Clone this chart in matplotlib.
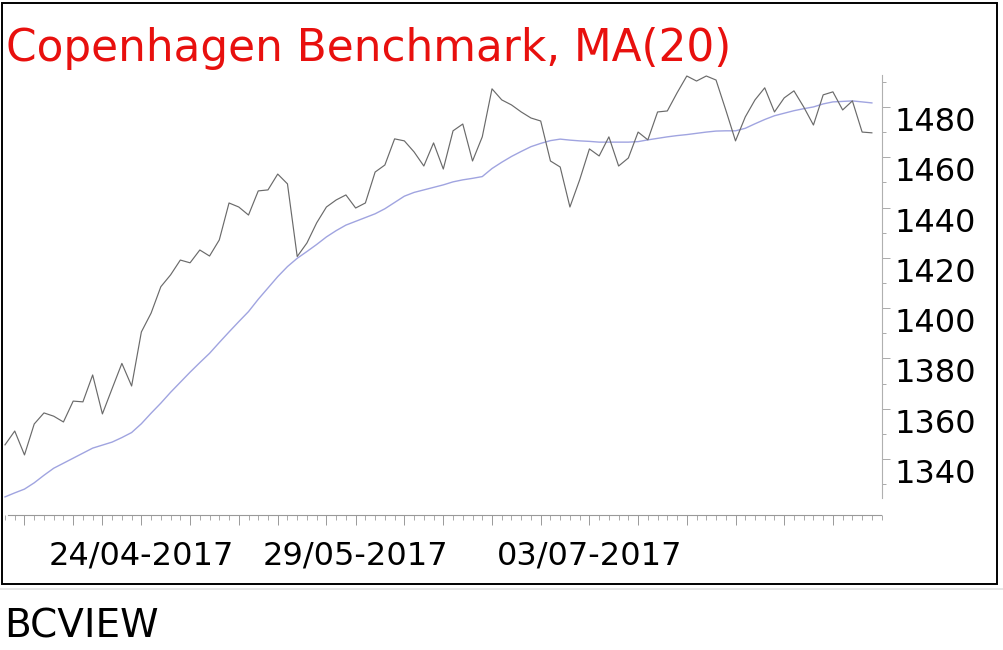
import matplotlib
matplotlib.use("Agg")
import matplotlib.pyplot as plt
from matplotlib import font_manager
from matplotlib.patches import Rectangle
from matplotlib.lines import Line2D
import numpy as np

## Copenhagen Benchmark, daily close (30/03-2017 .. 11/08-2017)
close = [1345.6, 1351.1, 1341.6, 1353.9, 1358.3, 1357.0, 1354.7, 1363.0, 1362.7, 1373.4,
         1357.9, 1368.0, 1378.0, 1369.0, 1390.5, 1398.0, 1408.5, 1413.2, 1419.1, 1418.0,
         1423.1, 1420.7, 1427.1, 1441.8, 1440.2, 1437.0, 1446.6, 1447.0, 1453.3, 1449.4,
         1420.5, 1425.9, 1433.9, 1440.2, 1443.0, 1445.0, 1439.8, 1441.8, 1454.1, 1456.9,
         1467.3, 1466.5, 1462.1, 1456.5, 1465.7, 1455.3, 1470.5, 1473.2, 1458.5, 1468.1,
         1487.2, 1482.8, 1480.8, 1478.0, 1475.6, 1474.4, 1458.5, 1456.1, 1440.2, 1451.0,
         1463.3, 1460.5, 1468.1, 1456.5, 1459.7, 1470.0, 1466.9, 1478.0, 1478.4, 1485.6,
         1492.3, 1490.3, 1492.3, 1490.7, 1478.8, 1466.5, 1476.0, 1482.8, 1487.6, 1478.0,
         1483.6, 1486.4, 1480.0, 1472.8, 1484.8, 1486.0, 1478.8, 1482.4, 1470.0, 1469.7]

## MA(20)
ma20 = [1324.9, 1326.5, 1328.0, 1330.5, 1333.5, 1336.3, 1338.3, 1340.3, 1342.3, 1344.3,
        1345.5, 1346.7, 1348.5, 1350.5, 1354.0, 1358.2, 1362.2, 1366.5, 1370.5, 1374.5,
        1378.3, 1382.0, 1386.3, 1390.5, 1394.6, 1398.6, 1403.5, 1408.0, 1412.5, 1416.5,
        1419.8, 1422.5, 1425.3, 1428.3, 1430.8, 1433.0, 1434.5, 1436.0, 1437.5, 1439.5,
        1442.0, 1444.5, 1446.0, 1447.0, 1448.0, 1449.0, 1450.2, 1451.0, 1451.6, 1452.3,
        1455.5, 1458.0, 1460.3, 1462.3, 1464.2, 1465.5, 1466.6, 1467.2, 1466.8, 1466.5,
        1466.3, 1466.0, 1466.0, 1466.0, 1466.0, 1466.2, 1466.9, 1467.5, 1468.1, 1468.6,
        1469.0, 1469.5, 1470.0, 1470.4, 1470.5, 1470.5, 1471.5, 1473.3, 1475.0, 1476.5,
        1477.5, 1478.5, 1479.3, 1480.0, 1481.2, 1482.0, 1482.2, 1482.4, 1482.0, 1481.6]

## x labels (trading-day index)
label_idx = [14, 36, 60]
labels = ['24/04-2017', '29/05-2017', '03/07-2017']
monday_idx = [2, 7, 10, 14, 19, 24, 28, 33, 36, 41, 45, 50, 55, 60, 65, 70, 75, 80, 85]

y_major = np.arange(1340, 1481, 20)
y_minor = np.arange(1330, 1491, 10)

W, H = 1004, 650
fig = plt.figure(figsize=(W / 100, H / 100), dpi=100)
fig.patch.set_facecolor('white')

# axes: left edge x=5px, right edge (y axis) x=882px, top y=75px, bottom (x axis) y=515px
ax = fig.add_axes([5 / W, (H - 515) / H, 877 / W, 440 / H])
x = np.arange(len(close))
ax.plot(x, close, color='#6a6a6a', lw=0.85, clip_on=False, zorder=3)
ax.plot(x, ma20, color='#a0a4e0', lw=1.0, clip_on=False, zorder=2)

ax.set_xlim(0, 90.04)
ax.set_ylim(1317.7, 1492.7)

for s in ['top', 'left']:
    ax.spines[s].set_visible(False)
ax.spines['right'].set_color('#b0b0b0')
ax.spines['right'].set_linewidth(0.8)
ax.spines['right'].set_bounds(1324.5, 1492.7)
ax.spines['bottom'].set_color('#999999')
ax.spines['bottom'].set_linewidth(0.8)
ax.spines['bottom'].set_bounds(0.3, 89.9)

ax.yaxis.tick_right()
ax.set_yticks(y_major)
ax.set_yticks(y_minor, minor=True)
ax.set_yticklabels([str(v) for v in y_major])
ax.tick_params(axis='y', which='major', direction='out', length=6, width=0.7,
               color='#aaaaaa', pad=3, labelsize=23, labelcolor='black')
ax.tick_params(axis='y', which='minor', direction='out', length=3, width=0.7,
               color='#aaaaaa')
for t in ax.get_yticklabels():
    t.set_verticalalignment('top')

ax.set_xticks(monday_idx)
ax.set_xticks(np.arange(0, 91), minor=True)
ax.set_xticklabels([labels[label_idx.index(i)] if i in label_idx else '' for i in monday_idx])
ax.tick_params(axis='x', which='major', direction='out', length=7, width=0.7,
               color='#999999', pad=11, labelsize=23, labelcolor='black')
ax.tick_params(axis='x', which='minor', direction='out', length=3.5, width=0.7,
               color='#aaaaaa')

# title
fig.text(6 / W, 1 - 61 / H, 'Copenhagen Benchmark, MA(20)', color='#e8100e',
         fontsize=31.5, family='DejaVu Sans', va='baseline', ha='left')

# frame round the chart and the line under it
fig.add_artist(Rectangle((2.5 / W, 1 - 584 / H), 995 / W, 581.5 / H, fill=False,
                         edgecolor='black', lw=1.4, transform=fig.transFigure))
fig.add_artist(Line2D([0, 1], [1 - 589 / H, 1 - 589 / H], color='#e2e2e2', lw=1.2,
                      transform=fig.transFigure))

# footer
names = {f.name for f in font_manager.fontManager.ttflist}
if 'Liberation Sans Narrow' in names:
    fig.text(4 / W, 1 - 637 / H, 'BCVIEW', fontsize=35, family='Liberation Sans Narrow',
             va='baseline', ha='left', color='black')
else:
    fig.text(4 / W, 1 - 637 / H, 'BCVIEW', fontsize=28, family='DejaVu Sans',
             va='baseline', ha='left', color='black')

fig.savefig('out.png', dpi=100, facecolor='white')
